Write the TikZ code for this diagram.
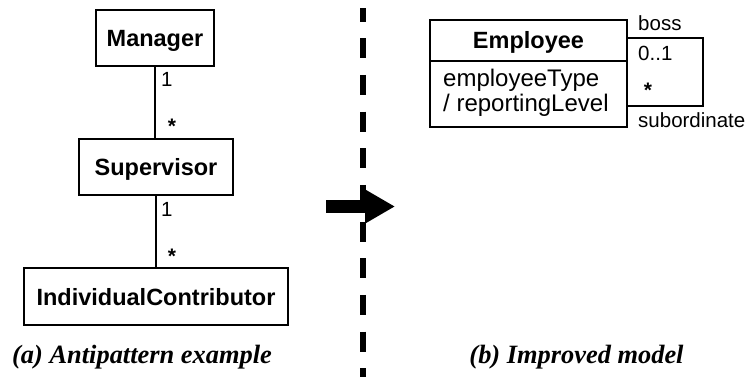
\documentclass[tikz,border=0pt]{standalone}
\usepackage{fontspec}
\setmainfont{Liberation Sans}
\newfontfamily\capfont{Liberation Serif}
\usetikzlibrary{arrows.meta}

\tikzset{
  classbox/.style={draw, line width=2pt, inner sep=0pt, align=center,
    text height=16.8pt, text depth=0pt,
    font=\fontsize{23.5}{26}\selectfont\bfseries},
  plainbox/.style={draw, line width=2pt, inner sep=0pt},
  attrtext/.style={inner sep=0pt, anchor=base west, font=\fontsize{24}{26}\selectfont},
  assoc/.style={line width=2pt},
  mult/.style={inner sep=0pt, anchor=base west, font=\fontsize{20.5}{22}\selectfont},
  star/.style={inner sep=0pt, font=\fontsize{21}{22}\selectfont\bfseries},
  caption/.style={inner sep=0pt, anchor=base, font=\fontsize{26.4}{29}\selectfont\capfont\bfseries\itshape},
  divider/.style={line width=6pt, dash pattern=on 20pt off 16.67pt, dash phase=6.67pt},
  bigarrow/.style={line width=13pt, -{Triangle[length=30pt,width=32pt]}}
}

\begin{document}
\begin{tikzpicture}[x=1pt, y=-1pt]
  \useasboundingbox (0,0) rectangle (750,379);

  % (a) three-level hierarchy
  \node[classbox, minimum width=118pt, minimum height=56pt] (mgr) at (155,38) {Manager};
  \node[classbox, minimum width=154pt, minimum height=56pt] (sup) at (156,167) {Supervisor};
  \node[classbox, minimum width=264pt, minimum height=57pt] (ic) at (156,297) {IndividualContributor};

  \draw[assoc] (mgr.south) -- (mgr.south |- sup.north);
  \draw[assoc] (sup.south) -- (sup.south |- ic.north);

  \node[mult] (m1) at (161,87) {1};
  \node[star] (s1) at (172,126) {*};
  \node[mult] (m2) at (161,217) {1};
  \node[star] (s2) at (172,256) {*};

  % separator and transformation arrow
  \coordinate (divTop) at (363,8.3);
  \coordinate (divBot) at (363,377);
  \draw[divider] (divTop) -- (divBot);

  \coordinate (arrS) at (326,206.5);
  \coordinate (arrE) at (395,206.5);
  \draw[bigarrow] (arrS) -- (arrE);

  % (b) single class with reflexive association
  \node[classbox, minimum width=197pt, minimum height=41pt] (emp) at (528.5,40.5) {Employee};
  \node[plainbox, minimum width=197pt, minimum height=66pt] (attrs) at (528.5,94) {};
  \node[attrtext] (at1) at (443,87) {employeeType};
  \node[attrtext] (at2) at (443,112) {/ reportingLevel};

  \coordinate (loopA) at (703,38);
  \coordinate (loopB) at (703,106);
  \draw[assoc] (emp.east |- loopA) -- (loopA) -- (loopB) -- (attrs.east |- loopB);

  \node[mult] (boss) at (638,31) {boss};
  \node[mult] (zo) at (638,61) {0..1};
  \node[star] (s3) at (648,90) {*};
  \node[mult] (sub) at (638,128) {subordinate};

  % captions
  \node[caption] (capa) at (142,363) {(a) Antipattern example};
  \node[caption] (capb) at (576.5,363) {(b) Improved model};
\end{tikzpicture}
\end{document}
